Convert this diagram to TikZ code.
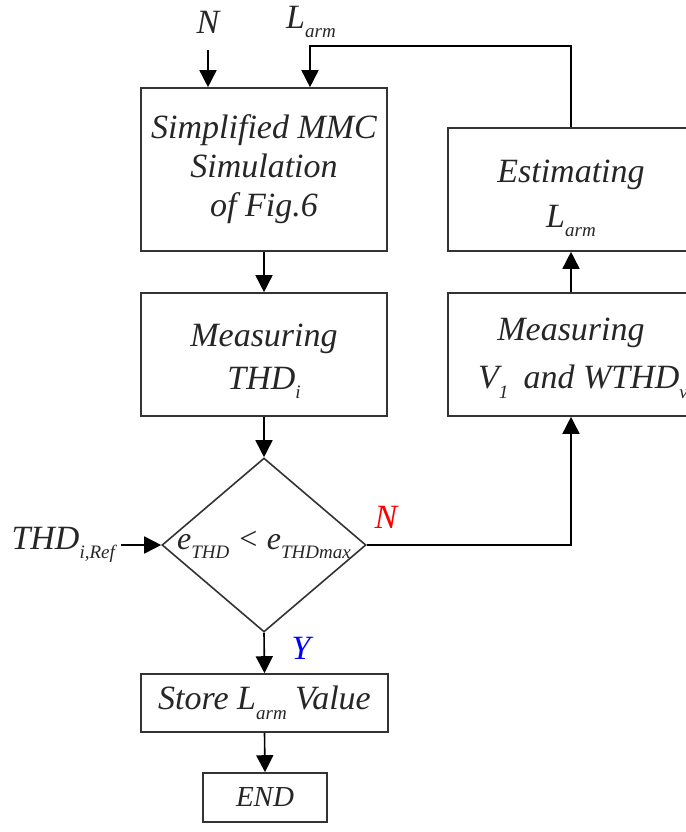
\documentclass[tikz,border=0pt]{standalone}
\usepackage{fontspec}
\setmainfont{Liberation Serif}
\usetikzlibrary{arrows.meta,shapes.geometric}
\newcommand{\lo}[1]{\raisebox{-0.28em}{\fontsize{19}{19}\selectfont #1}}

\begin{document}
\begin{tikzpicture}[x=1pt,y=-1pt,line width=1.6pt,
  >={Triangle[length=17pt,width=17pt]},
  every node/.style={font=\fontsize{34}{39}\selectfont\itshape,text=black!85},
  box/.style={rectangle,draw=black!80,align=center,minimum width=246pt,inner sep=0pt}]
\useasboundingbox (0,0) rectangle (685,832);
%\draw[help lines,step=50] (0,0) grid (685,832);

\node[box,minimum height=163pt] (sim) at (264,169.5) {Simplified MMC\\Simulation\\of Fig.6};
\node[box,minimum height=123pt] (meas) at (264,354.5) {\rule{0pt}{36pt}Measuring\\[4pt] THD\lo{i}};
\node[box,minimum height=123pt] (est) at (571,189.5) {\rule{0pt}{40pt}Estimating\\[6pt] L\lo{arm}};
\node[box,minimum height=123pt] (mv) at (571,354.5) {\rule{0pt}{30pt}Measuring\\[9pt] \hspace*{24pt}V\lo{1}\hspace{0.45em}and WTHD\lo{v}};
\node[diamond,draw=black!80,minimum width=204pt,minimum height=174pt,inner sep=0pt] (chk) at (264,545) {};
\node[font=\fontsize{32}{32}\selectfont\itshape] (cond) at (264,545) {e\lo{THD} < e\lo{THDmax}};
\node[box,minimum width=247pt,minimum height=58pt] (store) at (264.5,703) {Store L\lo{arm} Value};
\node[box,minimum width=124pt,minimum height=49pt] (end) at (265,797.5) {\fontsize{29}{29}\selectfont END};

\node (nlab) at (208,22) {N};
\node (llab) at (311,22) {L\lo{arm}};
\node[anchor=east] (ref) at (119,545) {THD\lo{i,Ref}};
\node[text=red] (nno) at (386,517) {N};
\node[text=blue] (yes) at (301,648) {Y};

\coordinate (nin) at (208,50);
\coordinate (fbk) at (310,46);
\coordinate (refin) at (121,545);

\draw[->] (nin) -- (nin |- sim.north);
\draw[->] (est.north) |- (fbk) -- (fbk |- sim.north);
\foreach \a/\b in {sim/meas, meas/chk, chk/store, store/end}
  \draw[->] (\a.south) -- (\b.north);
\draw[->] (chk.east) -| (mv.south);
\draw[->] (mv.north) -- (est.south);
\draw[->] (refin) -- (chk.west);
\end{tikzpicture}
\end{document}
